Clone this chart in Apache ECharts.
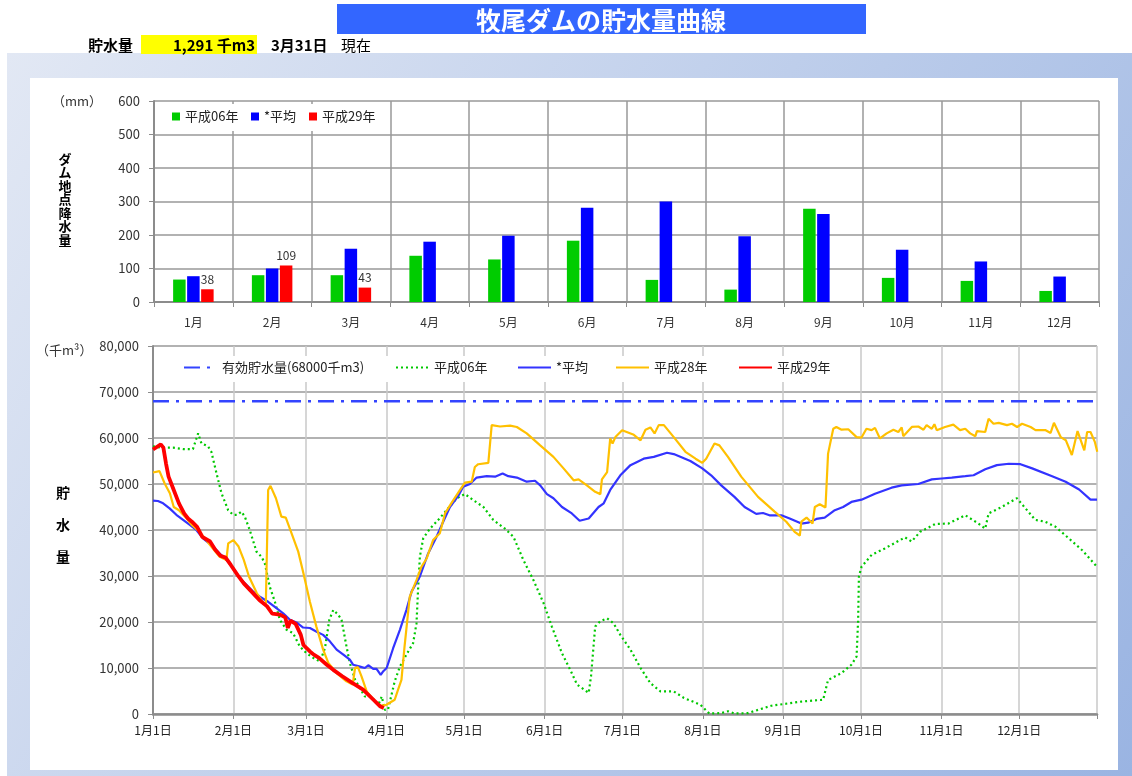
<!DOCTYPE html>
<html><head><meta charset="utf-8">
<script src="https://cdn.jsdelivr.net/npm/echarts@6/dist/echarts.min.js"></script>
<style>html,body{margin:0;padding:0;background:#fff}#c{width:1132px;height:776px}</style>
</head><body><div id="c"></div>
<script>
// ---- Rainfall (mm) ----
const months = ['1月','2月','3月','4月','5月','6月','7月','8月','9月','10月','11月','12月'];
const rainH06 = [67, 80, 80, 138, 127, 183, 66, 37, 278, 72, 63, 33];
const rainAvg = [77, 100, 159, 180, 198, 281, 300, 196, 263, 156, 121, 76];
const rainH29 = [38, 109, 43, null, null, null, null, null, null, null, null, null];

// ---- Storage (thousand m3), [day-of-year, value] ----
const monthDays = [31, 28, 31, 30, 31, 30, 31, 31, 30, 31, 30, 31];
const effectiveCap = [[0, 68000], [364, 68000]];
const storH06 = [[0,58200],[3,57900],[7.7,57900],[11.6,57600],[15.4,57600],[17.4,61000],[18.7,58800],[21.2,58200],[22.5,57000],[24.5,52300],[26.4,48000],[29,44300],[30.9,43300],[32.4,43300],[34.1,44000],[35.4,42900],[37.3,40000],[39.9,35300],[41.8,34200],[43.1,32800],[45,27700],[47,24400],[48.9,20500],[51.5,18300],[54,17600],[56.6,14700],[59.2,13200],[61.8,12200],[64.4,11400],[66.3,14300],[68,20500],[69.5,22600],[71.4,21600],[72.7,20500],[74.6,14700],[75.9,11100],[77.9,7500],[79.8,5600],[81.7,3800],[84.3,3800],[85.6,2700],[86.9,2000],[88.2,3800],[89.4,900],[90.6,900],[93.2,7100],[95.2,10300],[97.7,12900],[100.3,15400],[101.6,19700],[102.2,27000],[102.9,34200],[104.2,38200],[106.8,40300],[110,42200],[113.2,44300],[117.1,46900],[120.3,47800],[123.5,46500],[127.4,45000],[131.2,42200],[135.7,40300],[139,38500],[142.8,33500],[146.7,29100],[150.6,24100],[153.8,19000],[157.7,13200],[160.9,9600],[163.5,6400],[168,4600],[168.9,8200],[170.5,19000],[172.5,20200],[175.1,20800],[177.6,19700],[180.2,17200],[184.1,14000],[188,10000],[191.8,6700],[195.7,4900],[200.8,4900],[204.7,3500],[211.1,2000],[214.5,100],[219.1,200],[221.7,600],[224.2,100],[229.4,200],[233.3,900],[238.4,1800],[243.6,2200],[250,2700],[258.4,3100],[260.3,7400],[265.5,8900],[269.3,10700],[271.3,12500],[271.9,20500],[272.2,29900],[273.2,32000],[277.1,34600],[282.2,36000],[290,38400],[292.5,37500],[295.8,39600],[301.6,41300],[306.7,41400],[313.2,43200],[318.3,41400],[320.9,40300],[322.2,43600],[327.3,45000],[333.1,46900],[340.2,42200],[344,41800],[348,40700],[353.1,38200],[358.3,35600],[364,32000]];
const storAvg = [[0,46400],[1.9,46300],[3.9,45800],[6.4,44700],[9,43300],[11.6,42200],[14.2,41100],[16.7,40000],[19.3,38200],[23.2,36400],[25.7,34900],[28.3,33500],[30.9,31700],[33.5,29500],[36,28100],[38.6,26600],[41.2,25500],[44.4,24400],[47.6,23000],[50.2,21900],[52.8,20500],[55.3,19900],[57.9,18800],[60.5,18700],[63.1,17900],[65.6,17200],[68.2,15800],[70.8,14000],[73.4,12900],[75.9,11800],[77.2,10700],[79.8,10300],[81.7,10000],[83,10600],[84.9,9800],[86.2,9800],[87.8,8500],[88.8,9300],[90.1,10000],[92.6,14300],[95.2,18300],[97.7,22600],[99.7,26600],[102.9,29900],[106.1,34900],[109.3,38500],[111.9,41800],[114.5,45000],[117.7,47400],[119.6,49400],[122.2,50000],[124.8,51400],[128.7,51700],[131.9,51600],[134.8,52300],[137,51700],[140.3,51400],[144.1,50500],[147.3,50700],[149.3,49700],[151.9,47800],[154.4,46900],[157.7,45000],[161.5,43600],[164.5,42000],[168,42500],[171.8,45000],[173.8,45800],[176.3,48700],[180.2,51900],[184.1,54100],[189.2,55500],[193.1,55900],[198.2,56800],[200.8,56500],[207.2,55000],[211.8,53400],[215.2,51900],[219.1,49700],[224.2,47200],[228.1,45000],[232.6,43500],[235.2,43700],[237.7,43200],[242.3,43200],[245.5,42500],[250,41400],[252.6,41600],[255.8,42400],[259,42700],[262.9,44300],[266.1,45000],[269.3,46100],[273.2,46600],[278.4,47900],[284.8,49200],[288.7,49700],[295.1,50000],[300.3,51000],[304.1,51200],[308,51400],[313.2,51700],[316.4,51900],[320.9,53200],[325.4,54100],[330,54400],[334.5,54300],[339,53400],[346.7,51700],[351.9,50500],[357.1,48800],[361.5,46600],[364,46600]];
const storH28 = [[0,52500],[2.5,52800],[4.5,50100],[6.5,48000],[8,45000],[10,44300],[13,42500],[15,41100],[18,39600],[20.5,37800],[23,36000],[25.7,34200],[28.3,33500],[29,37100],[31,37800],[33,36400],[35,33500],[37,29900],[40,26300],[42.5,24100],[43.5,23700],[44.4,48700],[45.3,49600],[47.4,46900],[49.5,42900],[51.2,42700],[53.4,39300],[56,35300],[58,30600],[60.5,24400],[63,19000],[65.6,14000],[67.6,11100],[70.8,8900],[74.6,7100],[77,6400],[77.9,10000],[79,10200],[80.4,8200],[82.4,4900],[85,3100],[87.5,1800],[90,2000],[93.2,3100],[94.5,5300],[95.8,7400],[97,14700],[99,25500],[101.6,29100],[103.5,32000],[105.5,33800],[108,37800],[110.6,39300],[112.6,43600],[115,45800],[118.4,48700],[120.3,50300],[122.9,50500],[124.1,53700],[125.4,54300],[129.3,54600],[130.6,62800],[133.8,62500],[137.7,62700],[140.3,62400],[144.1,61000],[149.3,58400],[154.4,55900],[158.3,53400],[162.2,50800],[164.1,51000],[167.3,49700],[170.5,48300],[172.5,47800],[173.1,51000],[175.1,52600],[176.3,59900],[177.2,58800],[178.3,60200],[180.9,61700],[185.4,60700],[188,59500],[189.9,61800],[191.8,62300],[193.4,61000],[195,62800],[197,62800],[200.8,60200],[205.3,57000],[209.2,55500],[211.8,54600],[213.3,55500],[216.5,58800],[218.4,58400],[221.7,55900],[226.8,51600],[233.3,47200],[239.7,44000],[244.2,41800],[247.4,39600],[249.4,38800],[250,41800],[252,42700],[254.3,41400],[255.2,45000],[257.1,45600],[259.3,44900],[260.3,56600],[262.3,62000],[263.5,62400],[265.5,61800],[268.1,61900],[271.3,60200],[273.2,60100],[275.1,62000],[277.1,61700],[278.4,62200],[280.3,59900],[282.9,61000],[285.5,61800],[287.4,61300],[288.7,62300],[289.3,60400],[292.6,62400],[295.1,62500],[297.1,61800],[298.3,62800],[300.3,62000],[301.3,63000],[302.2,61700],[305.4,62400],[308.6,62900],[311.2,61700],[313.2,62000],[315.1,61000],[317.1,60400],[317.7,61500],[320.9,61300],[322.2,64200],[324.1,63100],[326.1,63300],[329.3,62800],[331.2,63100],[333.2,62400],[335.1,63100],[338.4,62400],[340.3,61700],[344.2,61700],[346.1,61100],[347.4,63300],[350,60200],[352,59500],[354.3,56300],[356.5,61500],[359.1,57300],[360.2,61300],[361.5,61300],[363.2,59100],[364.1,57000]];
const storH29 = [[0,57500],[3,58600],[4,57900],[5,54500],[6,51600],[8,48700],[10,45800],[12,43600],[13.5,42500],[15,41800],[17,40700],[19,38500],[22,37500],[24,35700],[26,34400],[28,34000],[30,32400],[33,29900],[35,28400],[38,26600],[41,24800],[44,23400],[46,21800],[49,21600],[51,21000],[52,18700],[53,20300],[55,19600],[57,17200],[58,15000],[60.5,13600],[62,12900],[64,12200],[67,10700],[69.5,9600],[73,8200],[77,6700],[81,5300],[85,3100],[87.5,1700],[89,1291]];

const yTicksTop = [0, 600, 100];
const yTicksBottom = [0, 80000, 10000];

// day categories for bottom x-axis
const dayCats = [];
const monthStart = new Set();
monthDays.forEach((n, m) => {
  monthStart.add(dayCats.length);
  for (let d = 1; d <= n; d++) dayCats.push((m + 1) + '月' + d + '日');
});
const lastIdx = dayCats.length - 1;

const FONT = '"Noto Sans CJK JP", "Noto Sans", sans-serif';
const GRID_DARK = '#999999';
const GRID_LIGHT = '#c8c8c8';
const AXIS = '#8c8c8c';

const chart = echarts.init(document.getElementById('c'), null, {renderer: 'canvas'});

const legendCommon = {orient: 'horizontal', padding: 0, z: 10, selectedMode: false,
  textStyle: {fontFamily: FONT, fontSize: 13, color: '#222'}};
const lineLegend = Object.assign({}, legendCommon, {top: 361, itemWidth: 33, itemHeight: 10,
  itemStyle: {color: 'rgba(0,0,0,0)', borderWidth: 0, opacity: 0}});

const option = {
  animation: false,
  textStyle: {fontFamily: FONT},
  graphic: [
    {type: 'rect', z: -10, shape: {x: 7, y: 53, width: 1125, height: 723},
      style: {fill: new echarts.graphic.LinearGradient(0, 0, 1, 1, [
        {offset: 0, color: '#e2e8f4'}, {offset: 1, color: '#9ab4e2'}])}},
    {type: 'rect', z: -9, shape: {x: 30, y: 78, width: 1088, height: 692}, style: {fill: '#ffffff'}},
    {type: 'rect', z: 5, shape: {x: 337, y: 4, width: 529, height: 30}, style: {fill: '#3366ff'}},
    {type: 'text', z: 6, style: {x: 601, y: 20, text: '牧尾ダムの貯水量曲線', fill: '#fff',
      font: 'bold 25px ' + FONT, textAlign: 'center', textVerticalAlign: 'middle'}},
    {type: 'text', z: 6, style: {x: 88, y: 45, text: '貯水量', fill: '#000',
      font: 'bold 15px ' + FONT, textVerticalAlign: 'middle'}},
    {type: 'rect', z: 5, shape: {x: 141, y: 35, width: 116, height: 19}, style: {fill: '#ffff00'}},
    {type: 'text', z: 6, style: {x: 255, y: 45, text: '1,291 千m3', fill: '#000',
      font: 'bold 15px ' + FONT, textAlign: 'right', textVerticalAlign: 'middle'}},
    {type: 'text', z: 6, style: {x: 271, y: 45, text: '3月31日', fill: '#000',
      font: 'bold 15px ' + FONT, textVerticalAlign: 'middle'}},
    {type: 'text', z: 6, style: {x: 341, y: 45, text: '現在', fill: '#000',
      font: '15px ' + FONT, textVerticalAlign: 'middle'}},
    // axis unit / titles
    {type: 'text', z: 6, style: {x: 52, y: 101, text: '（mm）', fill: '#333',
      font: '13px ' + FONT, textVerticalAlign: 'middle'}},
    {type: 'text', z: 6, style: {x: 65, y: 152, text: 'ダ\nム\n地\n点\n降\n水\n量', fill: '#000',
      font: 'bold 13px ' + FONT, textAlign: 'center', lineHeight: 13.5}},
    {type: 'text', z: 6, style: {x: 36, y: 350, text: '（千m³）', fill: '#333',
      font: '13px ' + FONT, textVerticalAlign: 'middle'}},
    {type: 'text', z: 6, style: {x: 63, y: 493, text: '貯', fill: '#000', font: 'bold 14px ' + FONT, textAlign: 'center', textVerticalAlign: 'middle'}},
    {type: 'text', z: 6, style: {x: 63, y: 525, text: '水', fill: '#000', font: 'bold 14px ' + FONT, textAlign: 'center', textVerticalAlign: 'middle'}},
    {type: 'text', z: 6, style: {x: 63, y: 557, text: '量', fill: '#000', font: 'bold 14px ' + FONT, textAlign: 'center', textVerticalAlign: 'middle'}},
    // legend backgrounds
    {type: 'rect', z: 8, shape: {x: 168, y: 104, width: 218, height: 27}, style: {fill: '#ffffff'}},
    {type: 'rect', z: 8, shape: {x: 176, y: 356, width: 670, height: 26}, style: {fill: '#ffffff'}}
  ],
  legend: [
    Object.assign({}, legendCommon, {data: ['平成06年'], left: 172, top: 110, itemWidth: 8, itemHeight: 8, icon: 'rect'}),
    Object.assign({}, legendCommon, {data: ['*平均'], left: 251, top: 110, itemWidth: 8, itemHeight: 8, icon: 'rect'}),
    Object.assign({}, legendCommon, {data: ['平成29年'], left: 309, top: 110, itemWidth: 8, itemHeight: 8, icon: 'rect'}),
    Object.assign({}, lineLegend, {data: ['有効貯水量(68000千m3)'], left: 183}),
    Object.assign({}, lineLegend, {data: ['平成06年 '], left: 395}),
    Object.assign({}, lineLegend, {data: ['*平均 '], left: 517}),
    Object.assign({}, lineLegend, {data: ['平成28年'], left: 615}),
    Object.assign({}, lineLegend, {data: ['平成29年 '], left: 738})
  ],
  grid: [
    {left: 154, top: 101, width: 945, height: 201},
    {left: 153, top: 346, width: 944, height: 368}
  ],
  xAxis: [
    {type: 'category', gridIndex: 0, data: months, boundaryGap: true, z: 1,
      axisLine: {lineStyle: {color: AXIS, width: 2}},
      axisTick: {show: true, length: 5, lineStyle: {color: AXIS}},
      axisLabel: {fontSize: 12, color: '#333', margin: 14, fontFamily: FONT},
      splitLine: {show: true, lineStyle: {color: GRID_DARK, width: 1.5}}},
    {type: 'category', gridIndex: 1, data: dayCats, boundaryGap: false, z: 1,
      axisLine: {lineStyle: {color: AXIS, width: 2.5}},
      axisTick: {show: true, length: 5, interval: (i) => monthStart.has(i) || i === lastIdx, lineStyle: {color: AXIS}},
      axisLabel: {fontSize: 12, color: '#222', margin: 10, fontFamily: FONT, interval: (i) => monthStart.has(i)},
      splitLine: {show: true, interval: (i) => monthStart.has(i) || i === lastIdx, lineStyle: {color: GRID_LIGHT, width: 1.5}}},
    {type: 'value', gridIndex: 1, min: 0, max: lastIdx, show: false, splitLine: {show: false}}
  ],
  yAxis: [
    {type: 'value', gridIndex: 0, min: yTicksTop[0], max: yTicksTop[1], interval: yTicksTop[2], z: 1,
      axisLine: {show: true, lineStyle: {color: AXIS, width: 2}},
      axisTick: {show: true, length: 5, lineStyle: {color: AXIS}},
      axisLabel: {fontSize: 13, color: '#333', margin: 14, fontFamily: FONT},
      splitLine: {lineStyle: {color: GRID_DARK, width: 1.5}}},
    {type: 'value', gridIndex: 1, min: yTicksBottom[0], max: yTicksBottom[1], interval: yTicksBottom[2], z: 1,
      axisLine: {show: true, lineStyle: {color: AXIS, width: 2}},
      axisTick: {show: true, length: 5, lineStyle: {color: AXIS}},
      axisLabel: {fontSize: 13, color: '#333', margin: 14, fontFamily: FONT,
        formatter: (v) => v.toLocaleString('en-US')},
      splitLine: {lineStyle: {color: GRID_DARK, width: 1.5}}}
  ],
  series: [
    {name: '平成06年', type: 'bar', xAxisIndex: 0, yAxisIndex: 0, data: rainH06, barWidth: 12.5, barGap: '12%',
      itemStyle: {color: '#00cc00'}},
    {name: '*平均', type: 'bar', xAxisIndex: 0, yAxisIndex: 0, data: rainAvg, barWidth: 12.5, barGap: '12%',
      itemStyle: {color: '#0000ff'}},
    {name: '平成29年', type: 'bar', xAxisIndex: 0, yAxisIndex: 0, data: rainH29, barWidth: 12.5, barGap: '12%',
      itemStyle: {color: '#ff0000'},
      label: {show: true, position: 'top', distance: 4, fontSize: 12, color: '#333', fontFamily: FONT}},
    {name: '有効貯水量(68000千m3)', type: 'line', xAxisIndex: 2, yAxisIndex: 1, data: effectiveCap, symbol: 'none',
      lineStyle: {color: '#3344ff', width: 2.5, type: [16, 7, 3, 7]}, itemStyle: {color: '#3344ff'}},
    {name: '平成06年 ', type: 'line', xAxisIndex: 2, yAxisIndex: 1, data: storH06, symbol: 'none',
      lineStyle: {color: '#00c800', width: 2.2, type: [2, 3]}, itemStyle: {color: '#00c800'}},
    {name: '*平均 ', type: 'line', xAxisIndex: 2, yAxisIndex: 1, data: storAvg, symbol: 'none',
      lineStyle: {color: '#3333ff', width: 2.2}, itemStyle: {color: '#3333ff'}},
    {name: '平成28年', type: 'line', xAxisIndex: 2, yAxisIndex: 1, data: storH28, symbol: 'none',
      lineStyle: {color: '#ffc000', width: 2.2}, itemStyle: {color: '#ffc000'}},
    {name: '平成29年 ', type: 'line', xAxisIndex: 2, yAxisIndex: 1, data: storH29, symbol: 'none',
      lineStyle: {color: '#ff0000', width: 3.8}, itemStyle: {color: '#ff0000'}}
  ]
};
chart.setOption(option);
</script>
</body></html>
